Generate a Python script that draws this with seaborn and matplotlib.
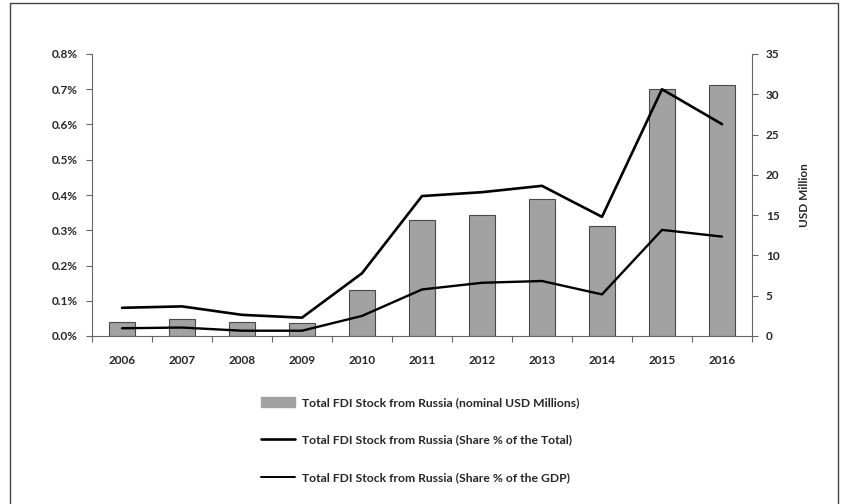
import matplotlib
matplotlib.use("Agg")
import matplotlib.pyplot as plt
import matplotlib.ticker as mticker
from matplotlib.patches import Rectangle, Patch
from matplotlib.lines import Line2D
import numpy as np
import pandas as pd
import seaborn as sns

years = ["2006", "2007", "2008", "2009", "2010", "2011", "2012", "2013", "2014", "2015", "2016"]
fdi_usd_millions = [1.7, 2.1, 1.75, 1.65, 5.7, 14.4, 15.0, 17.0, 13.7, 30.7, 31.2]
share_total_pct = [0.080, 0.084, 0.060, 0.052, 0.178, 0.397, 0.408, 0.426, 0.338, 0.700, 0.601]
share_gdp_pct = [0.022, 0.024, 0.015, 0.015, 0.057, 0.132, 0.151, 0.156, 0.118, 0.301, 0.282]

label_bar = "Total FDI Stock from Russia (nominal USD Millions)"
label_total = "Total FDI Stock from Russia (Share % of the Total)"
label_gdp = "Total FDI Stock from Russia (Share % of the GDP)"

sns.set_style("white")
plt.rcParams["font.family"] = ["Lato", "DejaVu Sans"]

df = pd.DataFrame({"year": years, "usd": fdi_usd_millions,
                   "total": share_total_pct, "gdp": share_gdp_pct})
df["pos"] = np.arange(len(df))

fig = plt.figure(figsize=(8.41, 5.04), dpi=100)
ax = fig.add_axes([92/841, 1-336/504, (752-92)/841, (336-54)/504])
ax2 = ax.twinx()

sns.barplot(data=df, x="year", y="usd", ax=ax2, color="#a2a2a2",
            edgecolor="#4a4a4a", linewidth=0.8, width=0.42, saturation=1)
ax2.set_ylim(0, 35)
ax2.set_yticks(range(0, 36, 5))
ax2.set_ylabel("USD Million", fontsize=8.5, fontweight="bold", labelpad=14)

sns.lineplot(data=df, x="pos", y="total", ax=ax, color="black", linewidth=1.9)
sns.lineplot(data=df, x="pos", y="gdp", ax=ax, color="black", linewidth=1.7)
ax.set_ylim(0, 0.8)
ax.set_yticks(np.arange(0, 0.81, 0.1))
ax.yaxis.set_major_formatter(mticker.FuncFormatter(lambda v, p: f"{v:.1f}%"))
ax.set_xlim(-0.5, len(years) - 0.5)
ax.set_xticks(range(len(years)))
ax.set_xticklabels(years)
ax.set_xticks(np.arange(-0.5, len(years), 1), minor=True)
ax.set_xlabel("")
ax.set_ylabel("")

ax.set_zorder(ax2.get_zorder() + 1)
ax.patch.set_visible(False)

for a in (ax, ax2):
    a.spines["top"].set_visible(False)
    for s in ("left", "right", "bottom"):
        a.spines[s].set_color("#666666")
        a.spines[s].set_linewidth(0.8)
ax.spines["right"].set_visible(False)
ax2.spines["left"].set_visible(False)
ax2.spines["bottom"].set_visible(False)

ax.tick_params(axis="y", which="major", direction="out", length=4, width=0.8,
               color="#666666", labelsize=8.5, pad=6, left=True)
ax.tick_params(axis="x", which="major", length=0, labelsize=8.5, pad=14)
ax.tick_params(axis="x", which="minor", direction="out", length=4, width=0.8,
               color="#666666", bottom=True)
ax2.tick_params(axis="y", direction="out", length=4, width=0.8, color="#666666",
                labelsize=8.5, pad=6, right=True)
for lab in ax.get_xticklabels() + ax.get_yticklabels() + ax2.get_yticklabels():
    lab.set_fontweight("bold")

handles = [Patch(facecolor="#a2a2a2", edgecolor="#a2a2a2"),
           Line2D([], [], color="black", linewidth=1.9),
           Line2D([], [], color="black", linewidth=1.4)]
leg = fig.legend(handles, [label_bar, label_total, label_gdp], loc="upper left",
                 bbox_to_anchor=(250/841, 1-386/504), frameon=False,
                 prop={"size": 8.7, "weight": "bold"}, labelspacing=2.2,
                 handlelength=2.8, handleheight=0.85, handletextpad=0.6)

fig.patches.append(Rectangle((10/841, -0.01), 828/841, 1.01-3/504, transform=fig.transFigure,
                             fill=False, edgecolor="#444444", linewidth=1.0))

fig.savefig("out.png", dpi=100)
